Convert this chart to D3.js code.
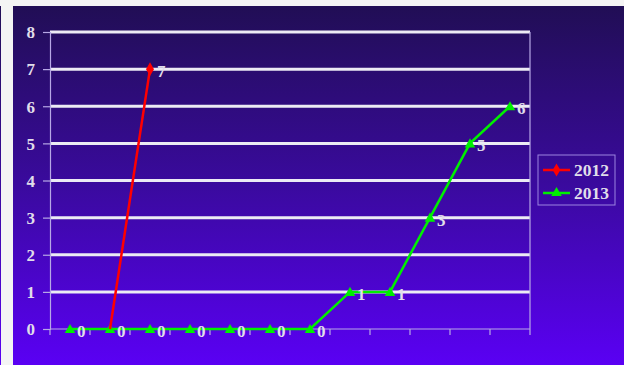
<!DOCTYPE html>
<html><head><meta charset="utf-8">
<script src="https://cdn.jsdelivr.net/npm/d3@7"></script>
<style>html,body{margin:0;padding:0;background:#f4f4f4;}svg{display:block;}</style>
</head><body>
<svg id="c" width="624" height="365"></svg>
<script>
const categories = ["1","2","3","4","5","6","7","8","9","10","11","12"];
const values2012 = [null, 0, 7, null, null, null, null, null, null, null, null, null];
const values2013 = [0, 0, 0, 0, 0, 0, 0, 1, 1, 3, 5, 6];
const yTicks = [0,1,2,3,4,5,6,7,8];
const seriesNames = ["2012","2013"];

(function () {
const svg = d3.select("#c");
const defs = svg.append("defs");
const g = defs.append("linearGradient").attr("id","bg").attr("x1",0).attr("y1",0).attr("x2",0).attr("y2",1);
g.append("stop").attr("offset","0%").attr("stop-color","#210e55");
g.append("stop").attr("offset","50%").attr("stop-color","#3a0a9e");
g.append("stop").attr("offset","100%").attr("stop-color","#5a00f4");

svg.append("rect").attr("x",0).attr("y",0).attr("width",624).attr("height",365).attr("fill","#f4f4f4");
svg.append("rect").attr("x",0).attr("y",6).attr("width",1).attr("height",359).attr("fill","url(#bg)");
svg.append("rect").attr("x",13).attr("y",6).attr("width",611).attr("height",359).attr("fill","url(#bg)");

const pLeft = 50, pRight = 530, pTop = 32, pBottom = 329;
const x = d3.scaleBand().domain(categories).range([pLeft, pRight]);
const y = d3.scaleLinear().domain([0, 8]).range([pBottom, pTop]);
const font = "'Liberation Serif','Times New Roman',serif";
const txt = "#e0deea";
const fs = 17;

svg.append("g").selectAll("line").data(yTicks.filter(d => d > 0)).join("line")
  .attr("x1", pLeft).attr("x2", pRight).attr("y1", d => y(d)).attr("y2", d => y(d))
  .attr("stroke", "#ecebf4").attr("stroke-width", 3);

svg.append("line").attr("x1", pRight).attr("x2", pRight).attr("y1", pTop).attr("y2", pBottom)
  .attr("stroke", "#b7a8e6").attr("stroke-width", 1.2);

const yAxis = svg.append("g").attr("transform", `translate(${pLeft},0)`)
  .call(d3.axisLeft(y).tickValues(yTicks).tickSize(7).tickFormat(d3.format("d")));
yAxis.select(".domain").attr("stroke", "#b7a8e6").attr("stroke-width", 1.2);
yAxis.selectAll(".tick line").attr("stroke", "#b7a8e6").attr("stroke-width", 1.2);
yAxis.selectAll("text").attr("fill", txt).attr("font-family", font).attr("font-weight", "bold")
  .attr("font-size", fs).attr("x", -15).attr("dy", "0.34em");

const boundaries = categories.map(c => x(c)).concat([pRight]);
const xAxisG = svg.append("g");
xAxisG.append("line").attr("x1", pLeft).attr("x2", pRight).attr("y1", pBottom).attr("y2", pBottom)
  .attr("stroke", "#b7a8e6").attr("stroke-width", 1.2);
xAxisG.selectAll("line.t").data(boundaries).join("line").attr("class","t")
  .attr("x1", d => d).attr("x2", d => d).attr("y1", pBottom).attr("y2", pBottom + 6)
  .attr("stroke", "#b7a8e6").attr("stroke-width", 1.2);

const cx = i => x(categories[i]) + x.bandwidth() / 2;
const line = d3.line().defined(d => d.v !== null).x(d => cx(d.i)).y(d => y(d.v));
const toPts = arr => arr.map((v, i) => ({v, i}));

const p13 = toPts(values2013);
svg.append("path").datum(p13).attr("d", line).attr("fill", "none").attr("stroke", "#00f000").attr("stroke-width", 2.5);
svg.append("g").selectAll("path").data(p13).join("path")
  .attr("d", d3.symbol().type(d3.symbolTriangle).size(48))
  .attr("transform", d => `translate(${cx(d.i)},${y(d.v) + 1})`).attr("fill", "#00f000");
svg.append("g").selectAll("text").data(p13).join("text")
  .attr("x", d => cx(d.i) + 7).attr("y", d => y(d.v) + 8)
  .attr("fill", txt).attr("font-family", font).attr("font-weight", "bold").attr("font-size", fs)
  .text(d => d.v);

const p12 = toPts(values2012).filter(d => d.v !== null);
svg.append("path").datum(p12).attr("d", line).attr("fill", "none").attr("stroke", "#ff0000").attr("stroke-width", 2.5);
svg.append("g").selectAll("path").data(p12.filter(d => d.v > 0)).join("path")
  .attr("d", d3.symbol().type(d3.symbolDiamond).size(55))
  .attr("transform", d => `translate(${cx(d.i)},${y(d.v)})`).attr("fill", "#ff0000");
svg.append("g").selectAll("text").data(p12.filter(d => d.v > 0)).join("text")
  .attr("x", d => cx(d.i) + 7).attr("y", d => y(d.v) + 8)
  .attr("fill", txt).attr("font-family", font).attr("font-weight", "bold").attr("font-size", fs)
  .text(d => d.v);

const lg = svg.append("g");
lg.append("rect").attr("x", 538).attr("y", 155).attr("width", 77).attr("height", 50)
  .attr("fill", "none").attr("stroke", "#9c84e0").attr("stroke-width", 1);
const legColors = ["#ff0000", "#00f000"];
const legSym = [d3.symbolDiamond, d3.symbolTriangle];
seriesNames.forEach((n, k) => {
  const ly = 170 + k * 23;
  lg.append("line").attr("x1", 543).attr("x2", 570).attr("y1", ly).attr("y2", ly)
    .attr("stroke", legColors[k]).attr("stroke-width", 2.5);
  lg.append("path").attr("d", d3.symbol().type(legSym[k]).size(k ? 48 : 50)())
    .attr("transform", `translate(556.5,${ly})`).attr("fill", legColors[k]);
  lg.append("text").attr("x", 574).attr("y", ly + 6).text(n)
    .attr("fill", txt).attr("font-family", font).attr("font-weight", "bold").attr("font-size", 17.5);
});
})();
</script>
</body></html>
